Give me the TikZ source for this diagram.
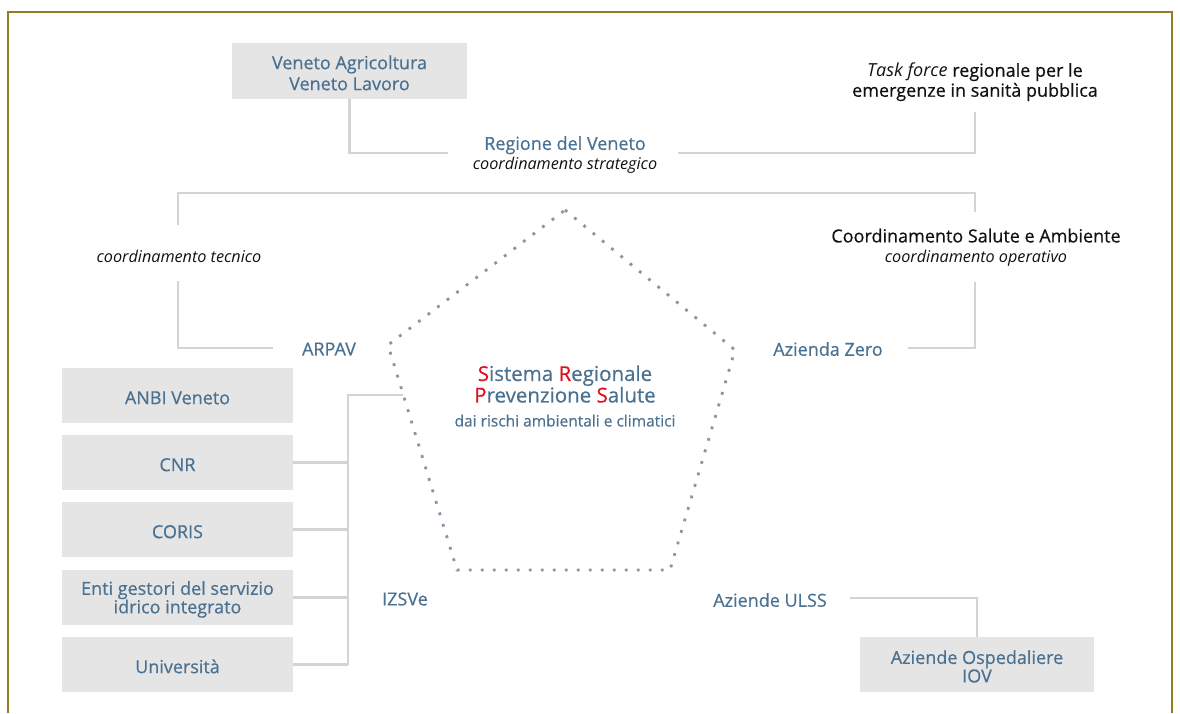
\documentclass[tikz,border=0pt]{standalone}
\usepackage{fontspec}
\setmainfont{Open Sans}[UprightFeatures={FakeBold=0.5}]
\definecolor{framec}{RGB}{145,125,35}
\definecolor{boxgray}{RGB}{229,229,229}
\definecolor{linegray}{RGB}{212,212,212}
\definecolor{tblue}{RGB}{75,113,145}
\definecolor{dotc}{RGB}{135,150,162}
\definecolor{sred}{RGB}{224,16,30}
\definecolor{tblack}{RGB}{17,17,17}
\newcommand\up{\rule{0pt}{17.5pt}}
\begin{document}
\begin{tikzpicture}[x=1pt,y=-1pt,
  box/.style={fill=boxgray, minimum height=55pt, align=center, text=tblue, inner sep=0pt,
    font=\fontsize{18}{18.5}\selectfont},
  lbl/.style={text=tblue, inner sep=0pt, align=center, font=\fontsize{18}{20}\selectfont},
  blk/.style={text=tblack, inner sep=0pt, align=center, font=\fontsize{18}{20}\selectfont},
  conn/.style={draw=linegray, line width=2.5pt},
  dotline/.style={draw=dotc, line width=2.8pt, dash pattern=on 2.8pt off 9.2pt}]
\useasboundingbox (0,0) rectangle (1180,713);
\draw[framec, line width=1.5pt] (8,713) -- (8,12) -- (1172,12) -- (1172,713);

% boxes
\node[box, minimum width=235pt, minimum height=56pt, font=\fontsize{18}{21}\selectfont] (va) at (349.5,71) {\up Veneto Agricoltura\\Veneto Lavoro};
\node[box, minimum width=231pt] (anbi) at (177.5,395.5) {\up ANBI Veneto};
\node[box, minimum width=231pt] (cnr) at (177.5,462.5) {\up CNR};
\node[box, minimum width=231pt] (coris) at (177.5,529.5) {\up CORIS};
\node[box, minimum width=231pt] (enti) at (177.5,597.5) {\up Enti gestori del servizio\\idrico integrato};
\node[box, minimum width=231pt] (univ) at (177.5,664.5) {\up Università};
\node[box, minimum width=234pt] (aoi) at (977,664.5) {\up Aziende Ospedaliere\\IOV};

% labels
\node[blk] (tf) at (975,82) {\textit{Task force} regionale per le\\emergenze in sanità pubblica};
\node[lbl] (rv) at (565,155) {Regione del Veneto\\{\fontsize{16.2}{20}\selectfont\itshape\color{tblack} coordinamento strategico}};
\node[lbl, text=tblack, font=\fontsize{16.2}{20}\selectfont\itshape] (ct) at (179,256) {coordinamento tecnico};
\node[blk] (csa) at (976,247.5) {Coordinamento Salute e Ambiente\\{\fontsize{16.2}{20}\selectfont\itshape coordinamento operativo}};
\node[lbl] (arpav) at (329,349) {ARPAV};
\node[lbl] (az) at (828,349) {Azienda Zero};
\node[lbl] (izs) at (405,599) {IZSVe};
\node[lbl] (ulss) at (770,600) {Aziende ULSS};
\node[lbl] (srps) at (565,396) {{\fontsize{20.5}{23}\selectfont\textcolor{sred}{S}istema \textcolor{sred}{R}egionale}\\{\fontsize{20.5}{23}\selectfont\textcolor{sred}{P}revenzione \textcolor{sred}{S}alute}\\[4pt]{\fontsize{15.5}{18}\selectfont dai rischi ambientali e climatici}};

% pentagon
\coordinate (p1) at (565,210);
\coordinate (p2) at (735,350);
\coordinate (p3) at (670,570);
\coordinate (p4) at (457,570);
\coordinate (p5) at (388,345);
\draw[dotline] (p1) -- (p2) -- (p3) -- (p4) -- (p5) -- cycle;

% connector points
\coordinate (j1) at (349.5,153);
\coordinate (rvL) at (448,153);
\coordinate (rvR) at (678,153);
\coordinate (tfB) at (975,112);
\coordinate (ctT) at (178,225);
\coordinate (b1) at (178,193);
\coordinate (b2) at (975,193);
\coordinate (csT) at (975,212);
\coordinate (ctB) at (178,281);
\coordinate (arL) at (273,348);
\coordinate (csB) at (975,282);
\coordinate (azR) at (908,348);
\coordinate (t1) at (348,395);
\coordinate (t2) at (348,665);
\coordinate (pl) at (403,395);
\coordinate (ulR) at (850,598);

\draw[conn] (va.south) -- (j1) -- (rvL);
\draw[conn] (rvR) -| (tfB);
\draw[conn] (ctT) -- (b1) -- (b2) -- (csT);
\draw[conn] (ctB) |- (arL);
\draw[conn] (csB) |- (azR);
\draw[conn] (pl) -- (t1) -- (t2);
\draw[conn] (cnr.east) -- (cnr.east -| t1);
\draw[conn] (coris.east) -- (coris.east -| t1);
\draw[conn] (enti.east) -- (enti.east -| t1);
\draw[conn] (univ.east) -- (univ.east -| t1);
\draw[conn] (ulR) -| (aoi.north);
\end{tikzpicture}
\end{document}
